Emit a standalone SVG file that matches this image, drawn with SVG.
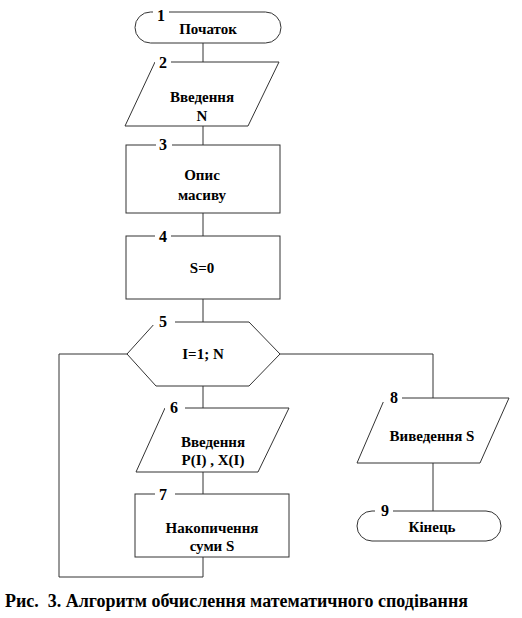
<svg xmlns="http://www.w3.org/2000/svg" width="522" height="618" viewBox="0 0 522 618">
<style>
.s{fill:#fff;stroke:#333;stroke-width:1}
.c{fill:none;stroke:#333;stroke-width:1}
.t{font-family:"Liberation Serif",serif;font-weight:bold;font-size:15px;text-anchor:middle;fill:#000}
.n{font-family:"Liberation Serif",serif;font-weight:bold;font-size:16px;text-anchor:middle;fill:#000}
.g{fill:#fff}
</style>
<rect width="522" height="618" fill="#fff"/>
<g id="connectors">
<path class="c" d="M203 43V62M203 126V145M203 213V236M203 299V322M203 386V408M203 472V494"/>
<path class="c" d="M127 354H59V577H203V557"/>
<path class="c" d="M280 354H433V398"/>
<path class="c" d="M433 463V511"/>
</g>
<g id="n1">
<rect class="s" x="135" y="12" width="146" height="31" rx="15.5"/>
<rect class="g" x="153" y="6" width="16" height="10"/>
<text class="n" x="161" y="21">1</text>
<text class="t" x="208" y="34">Початок</text>
</g>
<g id="n2">
<polygon class="s" points="155,62 279,62 248,126 125,126"/>
<rect class="g" x="155" y="55" width="16" height="10"/>
<text class="n" x="163" y="68">2</text>
<text class="t" x="202" y="102">Введення</text>
<text class="t" x="202" y="121">N</text>
</g>
<g id="n3">
<rect class="s" x="126" y="145" width="154" height="68"/>
<rect class="g" x="156" y="139" width="16" height="8"/>
<text class="n" x="163" y="150">3</text>
<text class="t" x="202" y="180">Опис</text>
<text class="t" x="202" y="200">масиву</text>
</g>
<g id="n4">
<rect class="s" x="126" y="236" width="154" height="63"/>
<rect class="g" x="155" y="230" width="16" height="10"/>
<text class="n" x="163" y="242">4</text>
<text class="t" x="202" y="273">S=0</text>
</g>
<g id="n5">
<polygon class="s" points="127,354 156,322 249,322 280,354 249,386 156,386"/>
<rect class="g" x="153" y="315" width="22" height="10"/>
<text class="n" x="163" y="327">5</text>
<text class="t" x="203" y="359">I=1; N</text>
</g>
<g id="n6">
<polygon class="s" points="165,408 289,408 258,472 136,472"/>
<rect class="g" x="165" y="400" width="20" height="12"/>
<text class="n" x="174" y="413">6</text>
<text class="t" x="213" y="447">Введення</text>
<text class="t" x="213" y="465">P(I) , X(I)</text>
</g>
<g id="n7">
<rect class="s" x="135" y="494" width="154" height="63"/>
<rect class="g" x="155" y="488" width="20" height="10"/>
<text class="n" x="163" y="500">7</text>
<text class="t" x="212" y="533">Накопичення</text>
<text class="t" x="212" y="551">суми S</text>
</g>
<g id="n8">
<polygon class="s" points="385,398 509,398 480,463 357,463"/>
<rect class="g" x="382" y="390" width="20" height="12"/>
<text class="n" x="394" y="403">8</text>
<text class="t" x="432" y="441">Виведення S</text>
</g>
<g id="n9">
<rect class="s" x="357" y="511" width="144" height="30" rx="15"/>
<rect class="g" x="375" y="505" width="18" height="10"/>
<text class="n" x="385" y="516">9</text>
<text class="t" x="432" y="532">Кінець</text>
</g>
<text x="5" y="607" font-family="Liberation Serif,serif" font-weight="bold" font-size="18" fill="#000" textLength="463" lengthAdjust="spacingAndGlyphs" xml:space="preserve">Рис.  3. Алгоритм обчислення математичного сподівання</text>
</svg>
